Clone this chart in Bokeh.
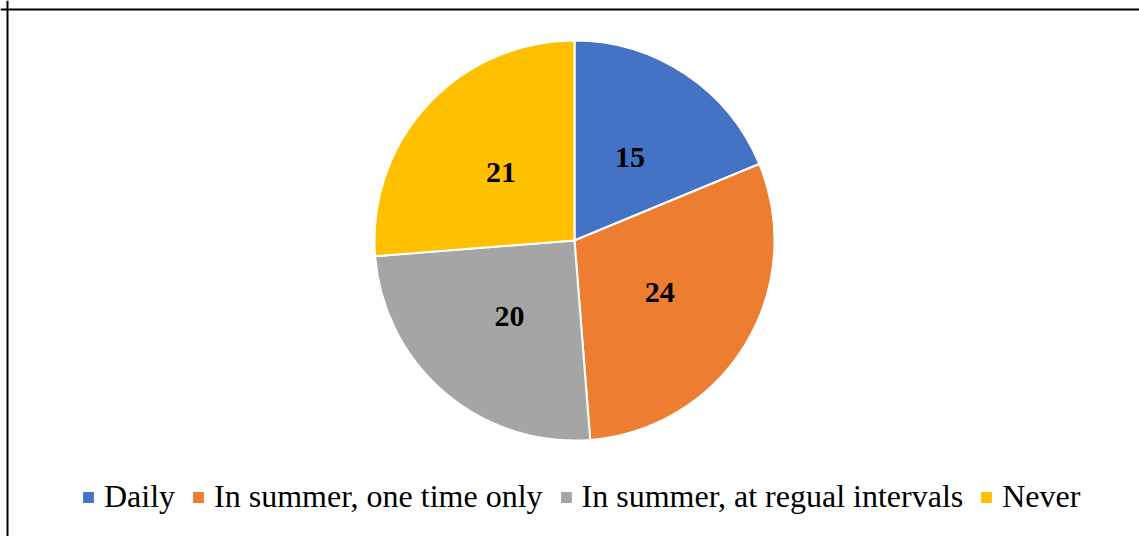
import math
from bokeh.plotting import figure
from bokeh.models import ColumnDataSource, Range1d, Legend, LegendItem, Span
from bokeh.core.properties import value
from bokeh.embed import file_html
from bokeh.resources import INLINE

categories = ["Daily", "In summer, one time only", "In summer, at regual intervals", "Never"]
values = [15, 24, 20, 21]
colors = ["#4472C4", "#ED7D31", "#A5A5A5", "#FFC000"]

W, H = 1139, 536
CX, CY, R = 574, 296, 200

total = float(sum(values))
starts, ends, lx, ly = [], [], [], []
cum = 0.0
for v in values:
    a0 = math.pi / 2 - 2 * math.pi * cum / total
    cum += v
    a1 = math.pi / 2 - 2 * math.pi * cum / total
    starts.append(a0)
    ends.append(a1)
    mid = (a0 + a1) / 2
    lx.append(CX + 0.5 * R * math.cos(mid))
    ly.append(CY + 0.5 * R * math.sin(mid))

p = figure(width=W, height=H, output_backend="svg", toolbar_location=None,
           x_range=Range1d(0, W), y_range=Range1d(0, H), min_border=0)
p.axis.visible = False
p.grid.visible = False
p.outline_line_color = None
p.background_fill_color = "white"
p.border_fill_color = "white"

items = []
for i, c in enumerate(categories):
    src = ColumnDataSource(dict(x=[CX], y=[CY], s=[starts[i]], e=[ends[i]]))
    r = p.wedge(x="x", y="y", radius=R, start_angle="s", end_angle="e", direction="clock",
                fill_color=colors[i], line_color="white", line_width=2, source=src)
    items.append(LegendItem(label=c, renderers=[r]))

lab = ColumnDataSource(dict(x=lx, y=ly, t=[str(v) for v in values]))
p.text(x="x", y="y", text="t", source=lab, text_align="center", text_baseline="middle",
       text_font=value("Liberation Serif"), text_font_style="bold", text_font_size="30px",
       text_color="black")

legend = Legend(items=items, orientation="horizontal", location=(80, 21),
                glyph_width=16, glyph_height=16, label_standoff=8, spacing=15,
                padding=0, margin=0, border_line_color=None, background_fill_alpha=0,
                label_text_font="Liberation Serif", label_text_font_size="32px",
                label_text_color="black")
p.add_layout(legend, "center")

p.add_layout(Span(location=7, dimension="height", line_color="black", line_width=2))
p.add_layout(Span(location=H - 9, dimension="width", line_color="black", line_width=2))

open("out.html", "w").write(file_html(p, INLINE))
